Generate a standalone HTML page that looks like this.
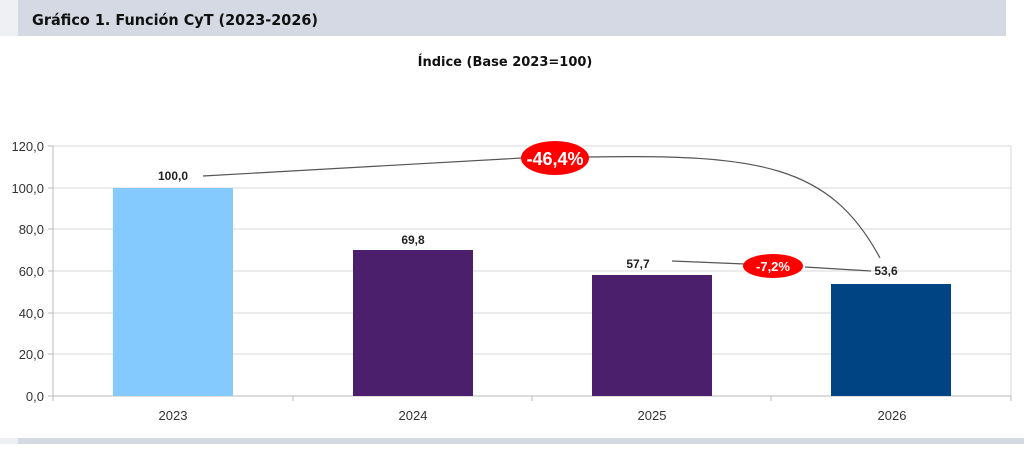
<!DOCTYPE html>
<html><head><meta charset="utf-8"><style>
body{margin:0;width:1024px;height:444px;background:#fff;overflow:hidden;font-family:"Liberation Sans",sans-serif;}
</style></head><body>
<svg width="1024" height="444" xmlns="http://www.w3.org/2000/svg" font-family="Liberation Sans, sans-serif">
<rect x="0" y="0" width="1024" height="444" fill="#fff"/>
<rect x="0" y="0" width="18" height="36" fill="#eef0f3"/>
<rect x="18" y="0" width="988" height="36" fill="#d5d9e3"/>
<rect x="0" y="438" width="18" height="6" fill="#eef0f3"/>
<rect x="18" y="438" width="1006" height="6" fill="#d5d9e3"/>
<text x="32" y="25" font-family="DejaVu Sans, sans-serif" font-weight="bold" font-size="15" fill="#111" textLength="286" lengthAdjust="spacingAndGlyphs">Gráfico 1. Función CyT (2023-2026)</text>
<text x="505" y="66" text-anchor="middle" font-family="DejaVu Sans, sans-serif" font-weight="bold" font-size="13" fill="#111">Índice (Base 2023=100)</text>
<g stroke="#d9d9d9" stroke-width="1">
<line x1="53" y1="146" x2="1011" y2="146"/><line x1="53" y1="188" x2="1011" y2="188"/>
<line x1="53" y1="229" x2="1011" y2="229"/><line x1="53" y1="271" x2="1011" y2="271"/>
<line x1="53" y1="313" x2="1011" y2="313"/><line x1="53" y1="354" x2="1011" y2="354"/>
<line x1="1011" y1="146" x2="1011" y2="396"/>
</g>
<g stroke="#bbb" stroke-width="1">
<line x1="53" y1="146" x2="53" y2="401"/><line x1="48" y1="396" x2="1011" y2="396"/>
<line x1="48" y1="146" x2="53" y2="146"/><line x1="48" y1="188" x2="53" y2="188"/><line x1="48" y1="229" x2="53" y2="229"/><line x1="48" y1="271" x2="53" y2="271"/><line x1="48" y1="313" x2="53" y2="313"/><line x1="48" y1="354" x2="53" y2="354"/>
<line x1="293" y1="396" x2="293" y2="401"/><line x1="532" y1="396" x2="532" y2="401"/><line x1="771" y1="396" x2="771" y2="401"/><line x1="1011" y1="396" x2="1011" y2="401"/>
</g>
<g font-size="13" fill="#333" text-anchor="end">
<text x="44" y="151">120,0</text><text x="44" y="193">100,0</text><text x="44" y="234">80,0</text><text x="44" y="276">60,0</text><text x="44" y="318">40,0</text><text x="44" y="359">20,0</text><text x="44" y="401">0,0</text>
</g>
<g font-size="13" fill="#333" text-anchor="middle">
<text x="173" y="420">2023</text><text x="413" y="420">2024</text><text x="652" y="420">2025</text><text x="892" y="420">2026</text>
</g>
<rect x="113" y="188" width="120" height="208" fill="#85caff"/>
<rect x="353" y="250" width="120" height="146" fill="#4b1f6b"/>
<rect x="592" y="275" width="120" height="121" fill="#4b1f6b"/>
<rect x="831" y="284" width="120" height="112" fill="#004483"/>
<g font-size="12" font-weight="bold" fill="#222" text-anchor="middle">
<text x="173" y="180">100,0</text><text x="413" y="244">69,8</text><text x="638" y="268">57,7</text><text x="886" y="275">53,6</text>
</g>
<g stroke="#555" stroke-width="1.2" fill="none">
<path d="M203,176 L522,158"/>
<path d="M588,157 C760,154 830,165 880,258"/>
<path d="M672,261 L745,264"/><path d="M805,267 L871,271"/>
</g>
<ellipse cx="555" cy="158" rx="34" ry="17" fill="#f00"/>
<text x="555" y="165" text-anchor="middle" font-size="18" font-weight="bold" fill="#fff">-46,4%</text>
<ellipse cx="773" cy="266" rx="30" ry="12" fill="#f00"/>
<text x="773" y="271" text-anchor="middle" font-size="13" font-weight="bold" fill="#fff">-7,2%</text>
</svg>
</body></html>
